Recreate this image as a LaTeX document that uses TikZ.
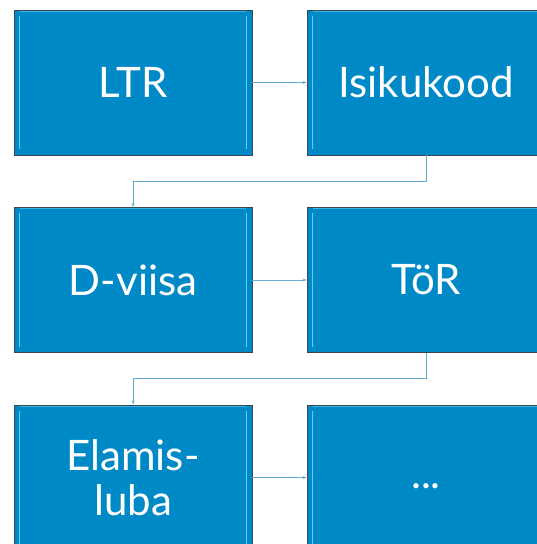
\documentclass[tikz,border=0pt]{standalone}
\usepackage{fontspec}
\setmainfont{Lato}
\usetikzlibrary{arrows.meta,calc}
\definecolor{boxfill}{RGB}{0,137,199}
\definecolor{boxedge}{RGB}{60,70,80}
\definecolor{bevel}{RGB}{90,210,240}
\definecolor{linkcol}{RGB}{100,175,205}
\tikzset{
  step box/.style={
    rectangle, fill=boxfill, draw=boxedge, line width=0.9pt,
    minimum width=238pt, minimum height=145pt, inner sep=0pt,
    text=white, align=center,
    font=\fontsize{42}{45}\selectfont
  },
  link/.style={draw=linkcol, line width=0.8pt,
    -{Stealth[length=4pt,width=3pt]}}
}

\begin{document}
\begin{tikzpicture}[x=1pt,y=1pt]
  \useasboundingbox (0,0) rectangle (537,-544);

  % the boxes
  \node[step box] (ltr)  at (133,-82.5)  {LTR};
  \node[step box] (isik) at (426,-82.5)  {Isikukood};
  \node[step box] (dv)   at (133,-280)   {D-viisa};
  \node[step box] (tor)  at (426,-280)   {TöR};
  \node[step box] (elam) at (133,-477.5) {Elamis-\\luba};
  \node[step box] (more) at (426,-477.5) {\vphantom{Ap}...};

  % bevel highlights
  \foreach \n in {ltr,isik,dv,tor,elam,more} {
    \draw[bevel, line width=1.6pt]
      ([xshift=6pt,yshift=-6pt]\n.north west) -- ([xshift=6pt,yshift=6pt]\n.south west);
    \draw[bevel, line width=1.6pt]
      ([xshift=-6pt,yshift=-6pt]\n.north east) -- ([xshift=-6pt,yshift=6pt]\n.south east);
    \draw[bevel!60!boxfill, line width=1pt]
      ([xshift=6pt,yshift=-1.5pt]\n.north west) -- ([xshift=-6pt,yshift=-1.5pt]\n.north east);
  }

  % the connectors
  \draw[link] (ltr.east) -- (isik.west);
  \draw[link] (dv.east) -- (tor.west);
  \draw[link] (elam.east) -- (more.west);
  \draw[link] (isik.south) |- ($(isik.south)!.5!(dv.north)$) -| (dv.north);
  \draw[link] (tor.south) |- ($(tor.south)!.5!(elam.north)$) -| (elam.north);
\end{tikzpicture}
\end{document}
